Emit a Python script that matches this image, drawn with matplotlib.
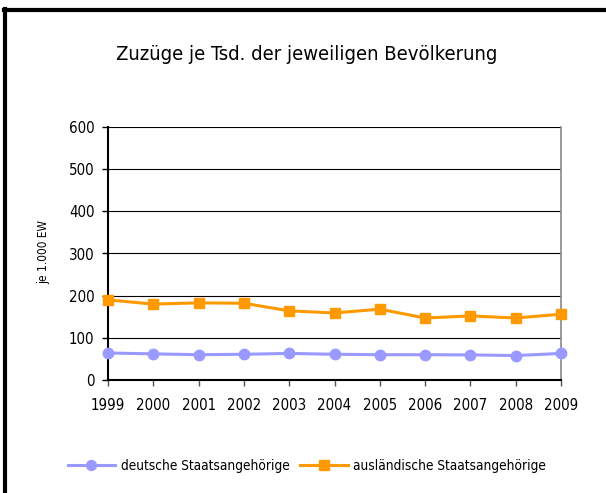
import matplotlib
matplotlib.use("Agg")
import matplotlib.pyplot as plt
from matplotlib.lines import Line2D
from matplotlib import font_manager

# pick a condensed face if one is installed
cond = None
for f in font_manager.fontManager.ttflist:
    st = str(f.stretch)
    if ('Narrow' in f.name or 'Condensed' in f.name or st in ('condensed', 'semi-condensed', 'extra-condensed')) \
            and f.style == 'normal' and f.weight in (400, 'normal', 'regular'):
        cond = f
        break

if cond is not None:
    plt.rcParams['font.family'] = [cond.name, 'DejaVu Sans']
    plt.rcParams['font.stretch'] = cond.stretch
    scale = 1.0
else:
    plt.rcParams['font.family'] = ['Roboto', 'DejaVu Sans']
    scale = 0.85

years = ["1999", "2000", "2001", "2002", "2003", "2004", "2005", "2006", "2007", "2008", "2009"]
deutsche = [64, 62, 60, 61, 63, 61, 60, 60, 59.5, 58, 63]
auslaendische = [190, 180, 183, 182, 164, 159, 168, 147, 152, 147, 156]
yticks = [0, 100, 200, 300, 400, 500, 600]

W, H = 606, 493
fig = plt.figure(figsize=(W / 100, H / 100), dpi=100)
ax = fig.add_axes([108 / W, 1 - 380 / H, (561 - 108) / W, (380 - 127) / H])

x = list(range(len(years)))
ax.plot(x, deutsche, color='#9999FF', lw=2.2, marker='o', ms=7.5, mec='#9999FF',
        mfc='#9999FF', label='deutsche Staatsangehörige', clip_on=False, zorder=3)
ax.plot(x, auslaendische, color='#FF9900', lw=2.2, marker='s', ms=7.5, mec='#FF9900',
        mfc='#FF9900', label='ausländische Staatsangehörige', clip_on=False, zorder=3)

ax.set_xlim(0, len(years) - 1)
ax.set_ylim(0, 600)
ax.set_yticks(yticks)
ax.set_xticks(x)
ax.set_xticklabels(years)
ax.yaxis.grid(True, color='black', lw=0.8)
ax.set_axisbelow(True)
ax.tick_params(axis='y', direction='out', length=4.3, width=1, color='black', labelsize=10.8 * scale, pad=5.5)
ax.tick_params(axis='x', direction='out', length=4.3, width=1, color='#555555', labelsize=10.8 * scale, pad=9)
for s in ['left', 'bottom']:
    ax.spines[s].set_color('black')
    ax.spines[s].set_linewidth(1.5)
ax.spines['top'].set_visible(False)
ax.spines['right'].set_color('#888888')
ax.spines['right'].set_linewidth(1.2)

ax.set_ylabel('je 1.000 EW', fontsize=8.5 * scale)
ax.yaxis.set_label_coords(-0.128, 0.506)

fig.text(307 / W, 1 - 55 / H, 'Zuzüge je Tsd. der jeweiligen Bevölkerung',
         ha='center', va='center', fontsize=14.5 * scale)

handles, labels = ax.get_legend_handles_labels()
fig.legend(handles, labels, loc='center', bbox_to_anchor=(307 / W, 1 - 466 / H),
           ncol=2, frameon=False, fontsize=9.8 * scale, handlelength=3.5, handletextpad=0.4,
           columnspacing=0.8, markerscale=0.95)

# outer frame (top and left visible)
fig.add_artist(Line2D([4 / W, 1], [1 - 10 / H, 1 - 10 / H], color='black', lw=3, transform=fig.transFigure))
fig.add_artist(Line2D([4.5 / W, 4.5 / W], [0, 1 - 9 / H], color='black', lw=3, transform=fig.transFigure))

fig.savefig('out.png', dpi=100)
